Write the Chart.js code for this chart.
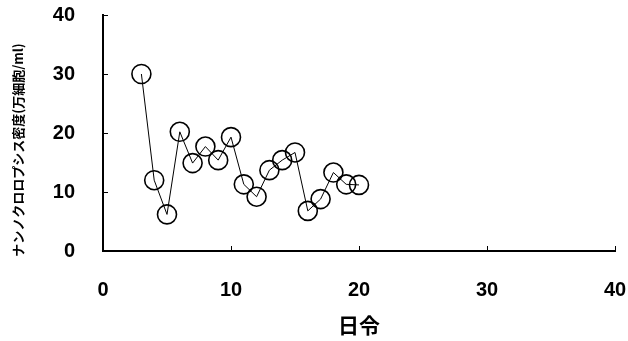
<!DOCTYPE html>
<html>
<head>
<meta charset="utf-8">
<script src="https://cdn.jsdelivr.net/npm/chart.js@4"></script>
<style>
    html, body { margin: 0; padding: 0; background: #fff; }
    #wrap { width: 628px; height: 341px; }
</style>
</head>
<body>
<div id="wrap"><canvas id="graficoDensidade"></canvas></div>
<script>
// Data
const dias = [3, 4, 5, 6, 7, 8, 9, 10, 11, 12, 13, 14, 15, 16, 17, 18, 19, 20];
const densidade = [30.0, 12.0, 6.2, 20.2, 14.9, 17.7, 15.4, 19.3, 11.3, 9.2, 13.7, 15.4, 16.7, 6.8, 8.8, 13.3, 11.3, 11.2];
const ticksX = [0, 10, 20, 30, 40];
const ticksY = [0, 10, 20, 30, 40];

const tituloX = '日令';
const tituloY = 'ナンノクロロプシス密度(万細胞/ml)';

(function() {
    'use strict';

    const fonteNum = { family: '"Liberation Sans", Arial, sans-serif', size: 20, weight: 'bold' };

    // Small inward tick marks + rotated y title
    const eixosPlugin = {
        id: 'eixos',
        afterDraw: function(chart) {
            const ctx = chart.ctx;
            const x = chart.scales.x;
            const y = chart.scales.y;
            const area = chart.chartArea;

            ctx.save();
            ctx.strokeStyle = '#000';
            ctx.lineWidth = 1;
            ticksX.forEach(function(v) {
                const px = Math.round(x.getPixelForValue(v)) + 0.5;
                ctx.beginPath();
                ctx.moveTo(px, area.bottom);
                ctx.lineTo(px, area.bottom - 5);
                ctx.stroke();
            });
            ticksY.forEach(function(v) {
                const py = Math.round(y.getPixelForValue(v)) + 0.5;
                ctx.beginPath();
                ctx.moveTo(area.left, py);
                ctx.lineTo(area.left + 5, py);
                ctx.stroke();
            });

            // y title
            ctx.translate(18, 150);
            ctx.rotate(-Math.PI / 2);
            ctx.fillStyle = '#000';
            ctx.font = 'bold 13px "Noto Sans CJK JP", sans-serif';
            ctx.textAlign = 'center';
            ctx.textBaseline = 'middle';
            ctx.fillText(tituloY, 0, 0);
            ctx.restore();
        }
    };

    const ctx = document.getElementById('graficoDensidade');

    new Chart(ctx, {
        type: 'line',
        data: {
            datasets: [{
                data: dias.map(function(d, i) { return { x: d, y: densidade[i] }; }),
                borderColor: '#000',
                borderWidth: 1,
                pointRadius: 9.5,
                pointBorderWidth: 1.6,
                pointBorderColor: '#000',
                pointBackgroundColor: 'rgba(0,0,0,0)',
                tension: 0
            }]
        },
        options: {
            responsive: true,
            maintainAspectRatio: false,
            animation: false,
            layout: {
                padding: { left: 0, top: 15, right: 13, bottom: 0 }
            },
            plugins: {
                legend: { display: false },
                tooltip: { enabled: false }
            },
            scales: {
                x: {
                    type: 'linear',
                    min: 0,
                    max: 40,
                    afterFit: function(s) {
                        s.height = 90;
                        s.paddingLeft = 0;
                        s.paddingRight = 0;
                    },
                    afterBuildTicks: function(s) {
                        s.ticks = ticksX.map(function(v) { return { value: v }; });
                    },
                    grid: { display: false },
                    border: { color: '#000', width: 2 },
                    ticks: {
                        color: '#000',
                        font: fonteNum,
                        padding: 19,
                        maxRotation: 0,
                        autoSkip: false
                    },
                    title: {
                        display: true,
                        text: tituloX,
                        color: '#000',
                        font: { family: '"Noto Sans CJK JP", sans-serif', size: 21, weight: 'bold' },
                        padding: { top: 0, bottom: 3 }
                    }
                },
                y: {
                    min: 0,
                    max: 40,
                    afterFit: function(s) {
                        s.width = 103;
                        s.paddingTop = 0;
                        s.paddingBottom = 0;
                    },
                    afterBuildTicks: function(s) {
                        s.ticks = ticksY.map(function(v) { return { value: v }; });
                    },
                    grid: { display: false },
                    border: { color: '#000', width: 2 },
                    ticks: {
                        color: '#000',
                        font: fonteNum,
                        padding: 20,
                        autoSkip: false
                    }
                }
            }
        },
        plugins: [eixosPlugin]
    });
})();
</script>
</body>
</html>
